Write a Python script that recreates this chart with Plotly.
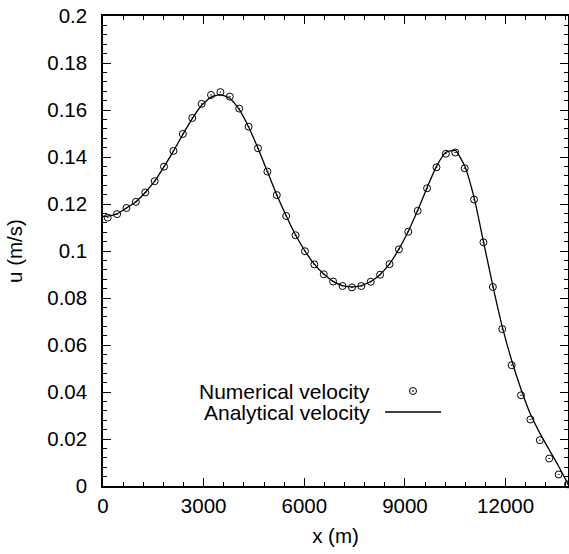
import plotly.graph_objects as go

# ---- data ----
x_num = [140 + 280 * k for k in range(50)]
u_num = [0.1142, 0.1157, 0.1183, 0.1209, 0.1249, 0.1297, 0.1359, 0.1426, 0.1498, 0.1566,
         0.1626, 0.1664, 0.1676, 0.1657, 0.1606, 0.1529, 0.1437, 0.1338, 0.1238, 0.1149,
         0.1067, 0.0999, 0.0943, 0.0901, 0.0870, 0.0851, 0.0845, 0.0851, 0.0869, 0.0899,
         0.0944, 0.1007, 0.1082, 0.1171, 0.1267, 0.1356, 0.1414, 0.1419, 0.1352, 0.1219,
         0.1037, 0.0847, 0.0668, 0.0514, 0.0386, 0.0283, 0.0195, 0.0117, 0.0049, 0.0007]

x_ana = [0] + x_num
u_ana = [0.1147, 0.1148, 0.1158, 0.1183, 0.1210, 0.1249, 0.1297, 0.1359, 0.1425, 0.1496, 0.1563,
         0.1620, 0.1655, 0.1665, 0.1650, 0.1603, 0.1528, 0.1437, 0.1338, 0.1238, 0.1150,
         0.1068, 0.1000, 0.0944, 0.0902, 0.0871, 0.0853, 0.0847, 0.0853, 0.0870, 0.0900,
         0.0945, 0.1008, 0.1084, 0.1173, 0.1270, 0.1360, 0.1420, 0.1428, 0.1362, 0.1228,
         0.1040, 0.0852, 0.0678, 0.0535, 0.0412, 0.0306, 0.0225, 0.0154, 0.0084, 0.0008]

y_ticks = [0, 0.02, 0.04, 0.06, 0.08, 0.1, 0.12, 0.14, 0.16, 0.18, 0.2]
y_labels = ["0", "0.02", "0.04", "0.06", "0.08", "0.1", "0.12", "0.14", "0.16", "0.18", "0.2"]
x_ticks = [0, 3000, 6000, 9000, 12000]
x_labels = ["0", "3000", "6000", "9000", "12000"]

FONT = "Liberation Sans, Arial, Helvetica, sans-serif"

fig = go.Figure()
fig.add_trace(go.Scatter(x=x_ana, y=u_ana, mode="lines",
                         line=dict(color="black", width=1.3, shape="spline", smoothing=0.5),
                         name="Analytical velocity", showlegend=False))
fig.add_trace(go.Scatter(x=x_num, y=u_num, mode="markers",
                         marker=dict(symbol="circle-open-dot", size=7, color="black", line=dict(width=1)),
                         name="Numerical velocity", showlegend=False, cliponaxis=False))

axis_common = dict(showgrid=False, zeroline=False, showline=True, linecolor="black", linewidth=1.5,
                   mirror="allticks", ticks="inside", tickcolor="black", tickwidth=1.2, ticklen=8,
                   tickfont=dict(family=FONT, size=20.5, color="black"))

fig.update_xaxes(range=[0, 13860], tickvals=x_ticks, ticktext=x_labels,
                 minor=dict(dtick=600, tick0=0, ticks="inside", ticklen=4, tickcolor="black", tickwidth=1),
                 title=dict(text="x (m)", font=dict(family=FONT, size=20.5, color="black"), standoff=12),
                 ticklabelstandoff=1, **axis_common)
fig.update_yaxes(range=[0, 0.2], tickvals=y_ticks, ticktext=y_labels,
                 minor=dict(dtick=0.004, tick0=0, ticks="inside", ticklen=4, tickcolor="black", tickwidth=1),
                 title=dict(text="u (m/s)", font=dict(family=FONT, size=20.5, color="black"), standoff=19),
                 ticklabelstandoff=10, **axis_common)

# legend drawn like the original (text left of symbol)
leg_font = dict(family=FONT, size=21, color="black")
fig.add_annotation(x=0.5785, y=0.2021, xref="paper", yref="paper", text="Numerical velocity",
                   showarrow=False, xanchor="right", yanchor="middle", font=leg_font)
fig.add_annotation(x=0.5785, y=0.1574, xref="paper", yref="paper", text="Analytical velocity",
                   showarrow=False, xanchor="right", yanchor="middle", font=leg_font)
fig.add_shape(type="circle", xref="paper", yref="paper", xsizemode="pixel", ysizemode="pixel",
              xanchor=0.6667, yanchor=0.2021, x0=-3.5, x1=3.5, y0=-3.5, y1=3.5,
              line=dict(color="black", width=1))
fig.add_shape(type="circle", xref="paper", yref="paper", xsizemode="pixel", ysizemode="pixel",
              xanchor=0.6667, yanchor=0.2021, x0=-0.6, x1=0.6, y0=-0.6, y1=0.6,
              line=dict(color="black", width=0.6), fillcolor="black")
fig.add_shape(type="line", xref="paper", yref="paper", x0=0.6065, x1=0.7269, y0=0.1574, y1=0.1574,
              line=dict(color="black", width=1.3))

fig.update_layout(width=569, height=554, margin=dict(l=103, r=1, t=16, b=68, autoexpand=False),
                  paper_bgcolor="white", plot_bgcolor="white", font=dict(family=FONT))

fig.write_html("out.html")
